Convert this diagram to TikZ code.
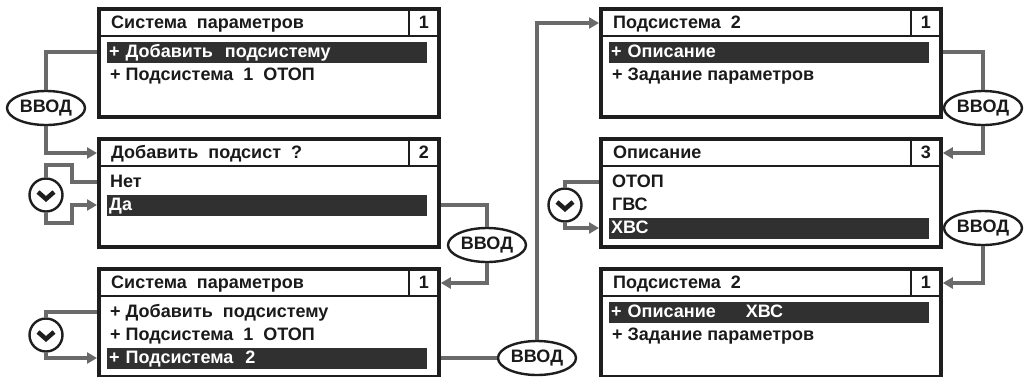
\documentclass[tikz,border=0pt]{standalone}
\usepackage{fontspec}
\setmainfont{Liberation Sans}
\usetikzlibrary{positioning, arrows.meta, calc, shapes.geometric}
\definecolor{frameDark}{HTML}{1E1E1E}
\definecolor{barDark}{HTML}{303030}
\definecolor{linkGray}{HTML}{6A6A6A}
\definecolor{textMain}{HTML}{1A1A1A}
\newcommand{\lcdfont}{\fontsize{18}{20}\selectfont\bfseries}
\tikzset{
  panel/.style={
    draw=frameDark, fill=white, line width=3.8pt, anchor=north west,
    minimum width=340pt, minimum height=108pt, inner sep=0pt,
  },
  sepline/.style={draw=frameDark, line width=1.5pt},
  lcdtext/.style={
    font=\lcdfont, text=textMain, anchor=west, inner sep=0pt,
    text height=13pt, text depth=3pt,
  },
  numtext/.style={
    font=\lcdfont, text=textMain, inner sep=0pt, text height=13pt, text depth=3pt,
  },
  selbar/.style={
    fill=barDark, font=\lcdfont, text=white, anchor=west, align=left,
    text width=316pt, inner xsep=2pt, inner ysep=0pt, minimum height=21pt,
    text height=13pt, text depth=3pt,
  },
  vvod/.style={
    ellipse, draw=frameDark, fill=white, line width=2.4pt,
    minimum width=78pt, minimum height=34pt, inner sep=0pt,
    font=\lcdfont, text=textMain,
  },
  scroll/.style={
    circle, draw=frameDark, fill=white, line width=2.4pt,
    minimum size=33pt, inner sep=0pt,
  },
  chevron/.style={draw=frameDark, line width=4.5pt, line join=miter},
  link/.style={draw=linkGray, line width=3.8pt},
  linkarrow/.style={link, -{Triangle[length=10pt, width=11pt]}},
}

\begin{document}
\begin{tikzpicture}[x=1pt, y=-1pt]
  \useasboundingbox (0,0) rectangle (1025,376);

  % === Panels ===
  \node[panel] (p1) at (97,7) {};
  \node[panel] (p2) at (97,137) {};
  \node[panel] (p3) at (97,267) {};
  \node[panel] (p4) at (599,7) {};
  \node[panel] (p5) at (599,137) {};
  \node[panel] (p6) at (599,267) {};

  % title row and number cell of each panel
  \foreach \p in {p1,p2,p3,p4,p5,p6} {
    \draw[sepline] ($(\p.north west)+(0,29)$) -- ($(\p.north east)+(0,29)$);
    \draw[sepline] ($(\p.north east)+(-32,0)$) -- ($(\p.north east)+(-32,29)$);
  }

  % === Panel 1 ===
  \node[lcdtext] (t1) at ($(p1.north west)+(14,16)$) {Система~ параметров};
  \node[numtext] (n1) at ($(p1.north east)+(-17,16)$) {1};
  \node[selbar] (b1) at ($(p1.north west)+(10,45)$) {+ Добавить~ подсистему};
  \node[lcdtext] (i1) at ($(p1.north west)+(13,68)$) {+ Подсистема~ 1~ ОТОП};

  % === Panel 2 ===
  \node[lcdtext] (t2) at ($(p2.north west)+(14,16)$) {Добавить~ подсист~ ?};
  \node[numtext] (n2) at ($(p2.north east)+(-17,16)$) {2};
  \node[lcdtext] (i2) at ($(p2.north west)+(13,45)$) {Нет};
  \node[selbar] (b2) at ($(p2.north west)+(10,68)$) {Да};

  % === Panel 3 ===
  \node[lcdtext] (t3) at ($(p3.north west)+(14,16)$) {Система~ параметров};
  \node[numtext] (n3) at ($(p3.north east)+(-17,16)$) {1};
  \node[lcdtext] (i3a) at ($(p3.north west)+(13,45)$) {+ Добавить~ подсистему};
  \node[lcdtext] (i3b) at ($(p3.north west)+(13,68)$) {+ Подсистема~ 1~ ОТОП};
  \node[selbar] (b3) at ($(p3.north west)+(10,91)$) {+ Подсистема~ 2};

  % === Panel 4 ===
  \node[lcdtext] (t4) at ($(p4.north west)+(14,16)$) {Подсистема~ 2};
  \node[numtext] (n4) at ($(p4.north east)+(-17,16)$) {1};
  \node[selbar] (b4) at ($(p4.north west)+(10,45)$) {+ Описание};
  \node[lcdtext] (i4) at ($(p4.north west)+(13,68)$) {+ Задание параметров};

  % === Panel 5 ===
  \node[lcdtext] (t5) at ($(p5.north west)+(14,16)$) {Описание};
  \node[numtext] (n5) at ($(p5.north east)+(-17,16)$) {3};
  \node[lcdtext] (i5a) at ($(p5.north west)+(13,45)$) {ОТОП};
  \node[lcdtext] (i5b) at ($(p5.north west)+(13,68)$) {ГВС};
  \node[selbar] (b5) at ($(p5.north west)+(10,91)$) {ХВС};

  % === Panel 6 ===
  \node[lcdtext] (t6) at ($(p6.north west)+(14,16)$) {Подсистема~ 2};
  \node[numtext] (n6) at ($(p6.north east)+(-17,16)$) {1};
  \node[selbar] (b6) at ($(p6.north west)+(10,45)$) {+ Описание\hspace{30pt}ХВС};
  \node[lcdtext] (i6) at ($(p6.north west)+(13,68)$) {+ Задание параметров};

  % === Keys ===
  \node[vvod] (vvodA) at (46,108) {ВВОД};
  \node[vvod] (vvodB) at (487,245) {ВВОД};
  \node[vvod] (vvodC) at (537,358) {ВВОД};
  \node[vvod] (vvodD) at (983,108) {ВВОД};
  \node[vvod] (vvodE) at (983,228) {ВВОД};
  \node[scroll] (chevA) at (46,195) {};
  \node[scroll] (chevB) at (565,205) {};
  \node[scroll] (chevC) at (46,335) {};
  \foreach \c in {chevA,chevB,chevC}
    \draw[chevron] ($(\c)+(-8,-3)$) -- ++(8,7) -- ++(8,-7);

  % === Connectors ===
  % panel 1 -> enter -> panel 2
  \draw[link] (p1.west |- b1) -| (vvodA.north);
  \draw[linkarrow] (vvodA.south) |- (p2.west |- t2);
  % scroll in panel 2
  \draw[link] (p2.west |- i2) -- ++(-25,0) -- ++(0,-17) -| (chevA.north);
  \draw[linkarrow] (chevA.south) -- ++(0,10) -| ($(p2.west |- b2)+(-25,0)$) -- (p2.west |- b2);
  % panel 2 -> enter -> panel 3
  \draw[link] (p2.east |- b2) -| (vvodB.north);
  \draw[linkarrow] (vvodB.south) |- (p3.east |- t3);
  % scroll in panel 3
  \draw[link] (p3.west |- i3a) -| (chevC.north);
  \draw[linkarrow] (chevC.south) |- (p3.west |- b3);
  % panel 3 -> enter -> panel 4
  \draw[link] (p3.east |- b3) -- (vvodC.west);
  \draw[linkarrow] (vvodC.north) |- (p4.west |- t4);
  % panel 4 -> enter -> panel 5
  \draw[link] (p4.east |- b4) -| (vvodD.north);
  \draw[linkarrow] (vvodD.south) |- (p5.east |- t5);
  % scroll in panel 5
  \draw[link] (p5.west |- i5a) -| (chevB.north);
  \draw[linkarrow] (chevB.south) |- (p5.west |- b5);
  % panel 5 -> enter -> panel 6
  \draw[link] (p5.east |- b5) -- (vvodE.west);
  \draw[linkarrow] (vvodE.south) |- (p6.east |- t6);

\end{tikzpicture}
\end{document}
